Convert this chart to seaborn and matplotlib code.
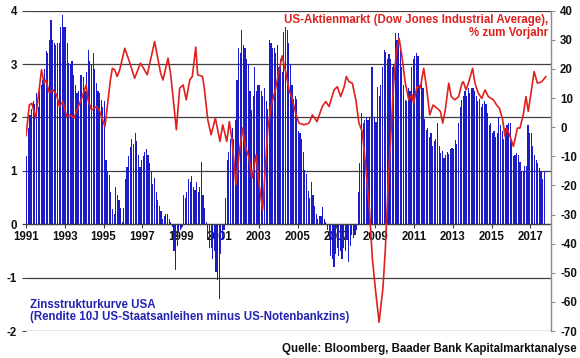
import matplotlib
matplotlib.use("Agg")
import matplotlib.pyplot as plt
import numpy as np
import pandas as pd
import seaborn as sns

# ---------------- data ----------------
# Zinsstrukturkurve USA (10J minus Fed Funds), monthly, Jan 1991 .. Sep 2017
s1991 = [1.27, 1.8, 2.05, 2.15, 2.3, 2.25, 2.45, 2.2, 2.5, 2.6, 2.7, 2.9]
s1992 = [3.25, 3.2, 3.45, 3.83, 3.45, 3.4, 3.35, 3.4, 3.4, 3.7, 3.92, 3.7]
s1993 = [3.7, 3.4, 3.02, 3.0, 3.05, 2.8, 2.6, 2.45, 2.5, 2.8, 2.8, 2.75]
s1994 = [2.5, 2.85, 3.26, 3.05, 3.0, 3.2, 2.9, 2.65, 2.5, 2.45, 2.33, 2.2]
s1995 = [2.3, 1.2, 1.0, 0.93, 0.6, 0.28, 0.2, 0.7, 0.55, 0.45, 0.3, 0.05]
s1996 = [0.3, 0.85, 1.08, 1.27, 1.45, 1.6, 1.5, 1.7, 1.55, 1.3, 1.08, 1.2]
s1997 = [1.28, 1.35, 1.4, 1.3, 1.15, 1.0, 0.75, 0.87, 0.6, 0.45, 0.35, 0.25]
s1998 = [0.1, 0.15, 0.2, 0.2, 0.1, 0.04, -0.05, -0.5, -0.85, -0.4, -0.15, -0.1]
s1999 = [-0.05, 0.55, 0.5, 0.6, 0.85, 0.8, 0.9, 0.7, 0.65, 0.8, 0.6, 0.7]
s2000 = [1.17, 0.55, 0.3, 0.05, -0.3, -0.44, -0.45, -0.65, -0.5, -0.9, -1.05, -1.4]
s2001 = [-0.55, -0.3, -0.1, 0.5, 1.2, 1.36, 1.6, 1.8, 1.6, 1.95, 2.7, 3.3]
s2002 = [3.2, 3.64, 3.35, 3.3, 3.1, 3.0, 2.5, 2.14, 2.4, 2.95, 2.5, 2.6]
s2003 = [2.6, 2.5, 2.4, 2.55, 2.3, 2.15, 3.45, 3.4, 3.3, 3.3, 3.2, 3.35]
s2004 = [2.95, 3.1, 2.85, 3.6, 3.7, 3.64, 3.4, 3.0, 2.6, 2.35, 2.4, 2.35]
s2005 = [1.75, 1.7, 1.6, 1.35, 1.02, 0.95, 0.63, 0.5, 0.8, 0.55, 0.35, 0.2]
s2006 = [0.1, 0.15, 0.15, 0.33, 0.1, 0.05, -0.1, -0.3, -0.6, -0.65, -0.8, -0.55]
s2007 = [-0.45, -0.6, -0.5, -0.65, -0.45, -0.5, -0.3, -0.7, -0.4, -0.2, -0.25, -0.2]
s2008 = [-0.1, 0.6, 1.14, 2.08, 1.9, 1.95, 2.0, 1.95, 2.0, 2.95, 2.95, 2.0]
s2009 = [1.92, 2.58, 2.4, 2.6, 2.95, 3.26, 3.23, 3.1, 3.18, 3.1, 2.95, 3.0]
s2010 = [3.58, 3.45, 3.58, 3.3, 2.95, 2.6, 2.33, 2.3, 2.55, 2.5, 2.95, 3.1]
s2011 = [3.15, 3.2, 3.15, 2.6, 2.7, 2.55, 1.98, 1.76, 1.8, 1.63, 1.7, 1.46]
s2012 = [1.55, 1.6, 1.89, 1.46, 1.33, 1.38, 1.24, 1.3, 1.35, 1.32, 1.4, 1.42]
s2013 = [1.4, 1.57, 1.5, 1.9, 2.2, 2.33, 2.4, 2.5, 2.4, 2.55, 2.45, 2.55]
s2014 = [2.55, 2.5, 2.4, 2.3, 2.35, 2.2, 2.25, 2.3, 2.25, 2.08, 1.85, 1.9]
s2015 = [1.7, 1.75, 1.63, 1.7, 2.0, 1.85, 1.75, 1.6, 1.8, 1.85, 1.9, 1.9]
s2016 = [1.55, 1.27, 1.3, 1.33, 1.3, 1.17, 1.0, 0.97, 1.1, 1.1, 1.86, 1.7]
s2017 = [1.7, 1.46, 1.3, 1.2, 1.15, 1.05, 1.0, 0.85, 1.0]

spread = (s1991 + s1992 + s1993 + s1994 + s1995 + s1996 + s1997 + s1998 + s1999
          + s2000 + s2001 + s2002 + s2003 + s2004 + s2005 + s2006 + s2007 + s2008
          + s2009 + s2010 + s2011 + s2012 + s2013 + s2014 + s2015 + s2016 + s2017)
start_year = 1991

# US-Aktienmarkt (DJIA), % zum Vorjahr  (time in decimal years, value in %)
dj_t = [1991.0, 1991.17, 1991.3, 1991.5, 1991.8, 1991.93, 1992.03, 1992.2, 1992.4,
        1992.58, 1992.72, 1992.9, 1993.1, 1993.27, 1993.47, 1993.7, 1993.87, 1994.1,
        1994.2, 1994.38, 1994.64, 1994.8, 1995.07, 1995.23, 1995.35, 1995.45, 1995.57,
        1995.7, 1995.83, 1996.09, 1996.3, 1996.6, 1996.9, 1997.25, 1997.63, 1997.94,
        1998.06, 1998.32, 1998.46, 1998.75, 1998.92, 1999.1, 1999.26, 1999.44, 1999.57,
        1999.75, 1999.85, 2000.1, 2000.19, 2000.37, 2000.54, 2000.76, 2001.0, 2001.14,
        2001.35, 2001.48, 2001.62, 2001.82, 2001.99, 2002.17, 2002.3, 2002.48, 2002.65,
        2002.86, 2003.03, 2003.2, 2003.46, 2003.63, 2003.85, 2003.97, 2004.2, 2004.4,
        2004.56, 2004.73, 2004.9, 2005.07, 2005.33, 2005.59, 2005.76, 2006.0, 2006.27,
        2006.45, 2006.62, 2006.88, 2007.05, 2007.22, 2007.4, 2007.51, 2007.65, 2007.82,
        2008.0, 2008.16, 2008.33, 2008.51, 2008.7, 2008.85, 2009.0, 2009.2, 2009.4,
        2009.52, 2009.68, 2009.95, 2010.1, 2010.23, 2010.38, 2010.55, 2010.73, 2010.9,
        2010.98, 2011.15, 2011.32, 2011.5, 2011.64, 2011.81, 2011.98, 2012.19, 2012.36,
        2012.48, 2012.61, 2012.79, 2012.92, 2013.1, 2013.3, 2013.47, 2013.54, 2013.68,
        2013.8, 2014.02, 2014.14, 2014.31, 2014.49, 2014.66, 2014.83, 2015.09, 2015.26,
        2015.4, 2015.57, 2015.69, 2015.78, 2015.95, 2016.12, 2016.33, 2016.46, 2016.63,
        2016.77, 2016.89, 2017.03, 2017.19, 2017.36, 2017.58, 2017.8]
dj_pct = [-3.0, 7.6, 8.2, 3.1, 19.7, 15.1, 16.2, 11.8, 12.8,
          11.1, 7.1, 8.8, 3.6, 4.2, 3.1, 7.1, 9.9, 14.5,
          9.4, 5.9, 7.1, 5.4, 0.2, 9.4, 16.2, 20.2, 19.7,
          17.4, 19.7, 27.1, 23.1, 16.8, 22.0, 18.0, 29.4, 18.5,
          16.2, 23.7, 18.0, -0.9, 13.4, 14.5, 9.4, 16.2, 17.4,
          27.5, 18.0, 17.4, 13.4, 2.5, -2.6, 3.1, -4.9, 0.8,
          -4.9, 1.9, -4.4, -19.8, -8.9, -0.3, -6.6, -10.1, -17.5,
          -9.5, -20.4, -28.4, -0.9, 7.1, 12.8, 16.8, 24.5, 18.5,
          12.8, 9.4, 4.8, 1.4, 0.8, 1.4, 4.2, 1.9, 7.1,
          8.8, 7.1, 12.8, 13.9, 10.5, 13.9, 17.4, 15.6, 15.1,
          9.4, 1.4, -1.5, -13.5, -28.0, -45.0, -55.0, -67.0, -55.0,
          -42.0, -18.0, 15.0, 26.5, 30.5, 24.2, 15.1, 9.4, 11.1,
          8.2, 13.9, 13.4, 20.2, 13.9, 4.2, 7.6, 6.5, 5.4,
          1.4, 5.9, 15.1, 10.5, 9.4, 10.5, 15.1, 15.6, 12.8,
          15.1, 20.2, 15.1, 11.7, 9.9, 12.8, 10.5, 9.4, 7.6,
          6.5, 2.5, -3.2, -0.3, -3.2, -6.6, -0.3, -0.3, 4.2,
          10.5, 5.4, 11.7, 19.1, 15.1, 15.6, 17.4]

year_ticks = list(range(1991, 2018, 2))
left_ticks = [-2, -1, 0, 1, 2, 3, 4]
right_ticks = [-70, -60, -50, -40, -30, -20, -10, 0, 10, 20, 30, 40]

title_red_1 = "US-Aktienmarkt (Dow Jones Industrial Average),"
title_red_2 = "% zum Vorjahr"
title_blue_1 = "Zinsstrukturkurve USA"
title_blue_2 = "(Rendite 10J US-Staatsanleihen minus US-Notenbankzins)"
source = "Quelle: Bloomberg, Baader Bank Kapitalmarktanalyse"

# ---------------- style ----------------
BLUE = "#1c1cc8"
RED = "#e0201e"
GRID = "#404040"

sns.set_theme(style="white")
plt.rcParams["font.family"] = ["Liberation Sans", "DejaVu Sans"]
plt.rcParams["font.weight"] = "bold"

W, H = 580, 358
fig = plt.figure(figsize=(W / 100, H / 100), dpi=100)
fig.patch.set_facecolor("white")
x0, x1, y0, y1 = 26, 551, 10.7, 331
ax = fig.add_axes([x0 / W, 1 - y1 / H, (x1 - x0) / W, (y1 - y0) / H])

months = np.arange(len(spread))
df = pd.DataFrame({"t": start_year + (months + 0.5) / 12.0, "spread": spread})
sns.barplot(data=df, x="t", y="spread", native_scale=True, color=BLUE,
            saturation=1, width=0.72, errorbar=None, linewidth=0, ax=ax)

ax.set_xlim(1991.0, 2018.06)
ax.set_ylim(-2, 4)
ax.set_yticks(left_ticks)
ax.set_yticklabels([str(v) for v in left_ticks])
ax.set_xticks(year_ticks)
ax.set_xticklabels([str(v) for v in year_ticks])
ax.set_xlabel("")
ax.set_ylabel("")
ax.grid(axis="y", color=GRID, linewidth=0.9)
ax.grid(axis="x", visible=False)
ax.set_axisbelow(True)
for s in ["top", "right", "left"]:
    ax.spines[s].set_visible(False)
ax.spines["bottom"].set_position(("data", 0))
ax.spines["bottom"].set_color(GRID)
ax.spines["bottom"].set_linewidth(0.9)
ax.tick_params(axis="x", direction="out", length=3, width=0.8, color=GRID,
               pad=2, labelsize=8.3, labelcolor="#111111", bottom=True)
ax.tick_params(axis="y", direction="out", length=3, width=0.8, color=GRID,
               pad=3.5, labelsize=8.3, labelcolor="#111111", left=True)
ax.set_facecolor("none")

ax2 = ax.twinx()
sns.lineplot(x=dj_t, y=dj_pct, ax=ax2, color=RED, linewidth=1.2, sort=False)
ax2.set_ylim(-70, 40)
ax2.set_yticks(right_ticks)
ax2.set_yticklabels([str(v) for v in right_ticks])
ax2.set_xlim(1991.0, 2018.06)
ax2.grid(False)
for s in ["top", "left", "bottom"]:
    ax2.spines[s].set_visible(False)
ax2.spines["right"].set_color("#8c8c8c")
ax2.spines["right"].set_linewidth(1.0)
ax2.tick_params(axis="y", direction="out", length=3, width=0.8, color="#8c8c8c",
                pad=3.5, labelsize=8.3, labelcolor="#111111", right=True)
ax2.set_ylabel("")

def ftext(px, py, s, **kw):
    fig.text(px / W, 1 - py / H, s, fontweight="bold", **kw)

ftext(548, 20, title_red_1, color=RED, ha="right", va="center", fontsize=8.3)
ftext(548, 33, title_red_2, color=RED, ha="right", va="center", fontsize=8.3)
ftext(30, 305, title_blue_1, color="#2323b4", ha="left", va="center", fontsize=8.3)
ftext(30, 317, title_blue_2, color="#2323b4", ha="left", va="center", fontsize=8.3)
ftext(577, 349, source, color="#111111", ha="right", va="center", fontsize=8.3)

fig.savefig("out.png", dpi=100, facecolor="white")
